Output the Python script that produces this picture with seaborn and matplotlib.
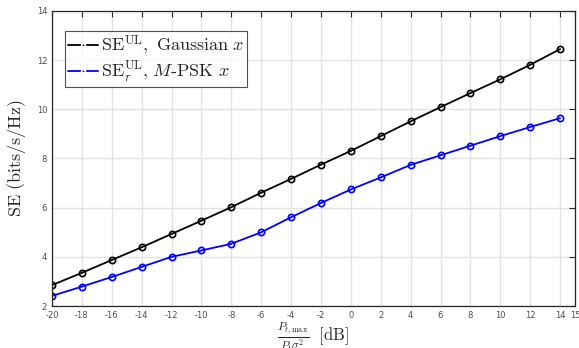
import numpy as np
import pandas as pd
import matplotlib
matplotlib.use("Agg")
import matplotlib.pyplot as plt
import seaborn as sns

snr_db = [-20, -18, -16, -14, -12, -10, -8, -6, -4, -2, 0, 2, 4, 6, 8, 10, 12, 14]
se_gauss = [2.85, 3.35, 3.87, 4.39, 4.93, 5.47, 6.02, 6.61, 7.17, 7.75, 8.31, 8.91, 9.51, 10.09, 10.66, 11.22, 11.81, 12.45]
se_mpsk = [2.41, 2.79, 3.18, 3.59, 4.00, 4.26, 4.53, 5.00, 5.61, 6.19, 6.74, 7.23, 7.74, 8.13, 8.52, 8.91, 9.28, 9.64]
labels = [r'$\mathrm{SE}^{\mathrm{UL}}\mathrm{,\ Gaussian}\ x$',
          r'$\mathrm{SE}_r^{\mathrm{UL}}\mathrm{,}\ M\mathrm{\text{-}PSK}\ x$']
xticks = [-20, -18, -16, -14, -12, -10, -8, -6, -4, -2, 0, 2, 4, 6, 8, 10, 12, 14, 15]
yticks = [2, 4, 6, 8, 10, 12, 14]

sns.set_style("white")
plt.rcParams['mathtext.fontset'] = 'cm'
plt.rcParams['font.family'] = ['DejaVu Sans']

df = pd.DataFrame({
    'x': snr_db * 2,
    'y': se_gauss + se_mpsk,
    's': [labels[0]] * len(snr_db) + [labels[1]] * len(snr_db),
})

fig = plt.figure(figsize=(5.79, 3.48), dpi=100)
ax = fig.add_axes([52/579, 1 - 306/348, (575-52)/579, (306-11)/348])

sns.lineplot(data=df, x='x', y='y', hue='s', palette=['black', '#0000ff'],
             marker='o', markersize=4.5, markerfacecolor='none', markeredgewidth=1.2,
             linewidth=1.3, ax=ax, legend=True)
for line, c in zip(ax.lines, ['black', '#0000ff']):
    line.set_markeredgecolor(c)
    line.set_markerfacecolor('none')

ax.set_xlim(-20, 15)
ax.set_ylim(2, 14)
ax.set_xticks(xticks)
ax.set_yticks(yticks)
ax.set_xticklabels([str(t) for t in xticks])
ax.grid(True, color='#e3e3e3', linewidth=1.0)
ax.set_axisbelow(True)
ax.tick_params(axis='both', direction='in', length=4, width=0.8, labelsize=6,
               labelcolor='#4d4d4d', top=True, right=True, color='#262626')
for sp in ax.spines.values():
    sp.set_color('#262626')
    sp.set_linewidth(0.9)

ax.set_xlabel(r'$\frac{P_{t,\max}}{P_t\sigma^2}\ \ [\mathrm{dB}]$', fontsize=12, labelpad=0)
ax.set_ylabel(r'$\mathrm{SE\ (bits/s/Hz)}$', fontsize=13, labelpad=6)

h, l = ax.get_legend_handles_labels()
leg = ax.legend(h, l, loc='upper left', bbox_to_anchor=(13/523, 1 - 20/295),
                fontsize=13, frameon=True, fancybox=False,
                edgecolor='#262626', handlelength=1.7, handletextpad=0.15,
                borderpad=0.15, labelspacing=0.12, borderaxespad=0.0, markerscale=0.6)
leg.get_frame().set_linewidth(0.8)

fig.savefig('out.png', dpi=100)
